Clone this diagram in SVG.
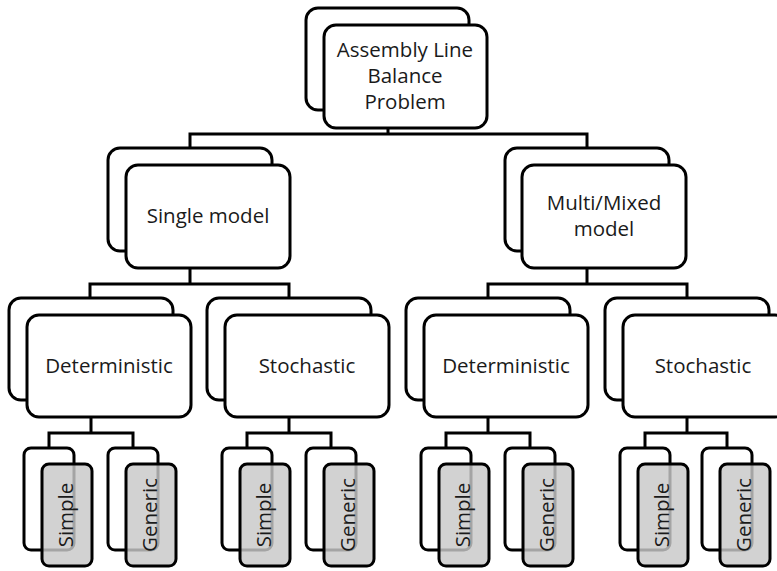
<svg xmlns="http://www.w3.org/2000/svg" width="777" height="571" viewBox="0 0 777 571">
  <style>
    .box { fill: #ffffff; stroke: #000000; stroke-width: 3; }
    .leaf { fill: #c8c8c8; fill-opacity: 0.82; stroke: #000000; stroke-width: 3; }
    .lbl { font-family: "Open Sans", "Noto Sans", "Liberation Sans", sans-serif; font-size: 20.5px; fill: #1a1a1a; text-anchor: middle; }
    .wire { fill: none; stroke: #000000; stroke-width: 3; }
  </style>
  <rect width="777" height="571" fill="#ffffff"/>

  <!-- connectors -->
  <g id="connectors">
    <path class="wire" d="M388 128 V134 M190 148 V134 H587 V148"/>
    <path class="wire" d="M190 268 V284 M90 298 V284 H289 V298"/>
    <path class="wire" d="M587 268 V284 M488 298 V284 H687 V298"/>
    <path class="wire" d="M91 417 V433 M49 448 V433 H133 V448"/>
    <path class="wire" d="M289 417 V433 M247 448 V433 H331 V448"/>
    <path class="wire" d="M488 417 V433 M446 448 V433 H530 V448"/>
    <path class="wire" d="M687 417 V433 M645 448 V433 H727 V448"/>
  </g>

  <!-- root -->
  <g id="root">
    <rect class="box" x="306" y="8" width="163" height="102" rx="12"/>
    <rect class="box" x="324" y="25" width="163" height="103" rx="12"/>
    <text class="lbl" x="405" y="57">Assembly Line</text>
    <text class="lbl" x="405" y="83">Balance</text>
    <text class="lbl" x="405" y="109">Problem</text>
  </g>

  <!-- second level -->
  <g id="single-model">
    <rect class="box" x="108" y="148" width="164" height="103" rx="12"/>
    <rect class="box" x="126" y="165" width="164" height="103" rx="12"/>
    <text class="lbl" x="208" y="223">Single model</text>
  </g>
  <g id="multi-mixed-model">
    <rect class="box" x="505" y="148" width="164" height="103" rx="12"/>
    <rect class="box" x="522" y="165" width="164" height="103" rx="12"/>
    <text class="lbl" x="604" y="210">Multi/Mixed</text>
    <text class="lbl" x="604" y="236">model</text>
  </g>

  <!-- third level -->
  <g id="single-deterministic">
    <rect class="box" x="9" y="298" width="164" height="102" rx="12"/>
    <rect class="box" x="27" y="315" width="164" height="102" rx="12"/>
    <text class="lbl" x="109" y="373">Deterministic</text>
  </g>
  <g id="single-stochastic">
    <rect class="box" x="207" y="298" width="164" height="102" rx="12"/>
    <rect class="box" x="225" y="315" width="164" height="102" rx="12"/>
    <text class="lbl" x="307" y="373">Stochastic</text>
  </g>
  <g id="multi-deterministic">
    <rect class="box" x="406" y="298" width="164" height="102" rx="12"/>
    <rect class="box" x="424" y="315" width="164" height="102" rx="12"/>
    <text class="lbl" x="506" y="373">Deterministic</text>
  </g>
  <g id="multi-stochastic">
    <rect class="box" x="605" y="298" width="164" height="102" rx="12"/>
    <rect class="box" x="623" y="315" width="164" height="102" rx="12"/>
    <text class="lbl" x="703" y="373">Stochastic</text>
  </g>

  <!-- leaves -->
  <g id="sd-simple">
    <rect class="box" x="24" y="448" width="50" height="102" rx="7"/>
    <rect class="leaf" x="42" y="464" width="50" height="102" rx="7"/>
    <text class="lbl" transform="translate(72.5 515) rotate(-90)">Simple</text>
  </g>
  <g id="sd-generic">
    <rect class="box" x="108" y="448" width="50" height="102" rx="7"/>
    <rect class="leaf" x="126" y="464" width="50" height="102" rx="7"/>
    <text class="lbl" transform="translate(156.5 515) rotate(-90)">Generic</text>
  </g>
  <g id="ss-simple">
    <rect class="box" x="222" y="448" width="50" height="102" rx="7"/>
    <rect class="leaf" x="240" y="464" width="50" height="102" rx="7"/>
    <text class="lbl" transform="translate(270.5 515) rotate(-90)">Simple</text>
  </g>
  <g id="ss-generic">
    <rect class="box" x="306" y="448" width="50" height="102" rx="7"/>
    <rect class="leaf" x="324" y="464" width="50" height="102" rx="7"/>
    <text class="lbl" transform="translate(354.5 515) rotate(-90)">Generic</text>
  </g>
  <g id="md-simple">
    <rect class="box" x="421" y="448" width="50" height="102" rx="7"/>
    <rect class="leaf" x="439" y="464" width="50" height="102" rx="7"/>
    <text class="lbl" transform="translate(469.5 515) rotate(-90)">Simple</text>
  </g>
  <g id="md-generic">
    <rect class="box" x="505" y="448" width="50" height="102" rx="7"/>
    <rect class="leaf" x="523" y="464" width="50" height="102" rx="7"/>
    <text class="lbl" transform="translate(553.5 515) rotate(-90)">Generic</text>
  </g>
  <g id="ms-simple">
    <rect class="box" x="620" y="448" width="50" height="102" rx="7"/>
    <rect class="leaf" x="638" y="464" width="50" height="102" rx="7"/>
    <text class="lbl" transform="translate(668.5 515) rotate(-90)">Simple</text>
  </g>
  <g id="ms-generic">
    <rect class="box" x="702" y="448" width="50" height="102" rx="7"/>
    <rect class="leaf" x="720" y="464" width="50" height="102" rx="7"/>
    <text class="lbl" transform="translate(750.5 515) rotate(-90)">Generic</text>
  </g>
</svg>
